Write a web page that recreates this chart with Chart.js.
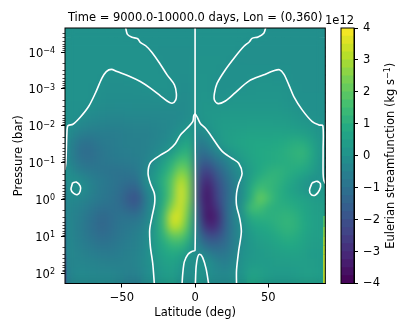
<!DOCTYPE html>
<html>
<head>
<meta charset="utf-8">
<style>
html, body { margin: 0; padding: 0; background: #fff; }
canvas { position: absolute; top: 0; }
</style>
<script src="https://cdn.jsdelivr.net/npm/chart.js@4"></script>
</head>
<body>
<canvas id="mainChart" width="415" height="332" style="left:0;width:415px;height:332px"></canvas>
<canvas id="colorbar" width="85" height="332" style="left:330px;width:85px;height:332px"></canvas>
<script>
var titleText = "Time = 9000.0-10000.0 days, Lon = (0,360)";
var xLabel = "Latitude (deg)";
var yLabel = "Pressure (bar)";
var cbarLabel = "Eulerian streamfunction (kg s";
var cbarLabelExp = "−1";
var offsetText = "1e12";

var xTicks = [-50, 0, 50];
var yTicks = [-4, -3, -2, -1, 0, 1, 2];
var cbarTicks = [-4, -3, -2, -1, 0, 1, 2, 3, 4];

var latitudes = [-87, -81, -75, -69, -63, -57, -51, -45, -39, -33, -27, -21, -15, -9, -3, 3, 9, 15, 21, 27, 33, 39, 45, 51, 57, 63, 69, 75, 81, 87];
var logPressure = [-4.55, -4.25, -4, -3.75, -3.5, -3.25, -3, -2.75, -2.5, -2.25, -2, -1.75, -1.5, -1.25, -1, -0.75, -0.5, -0.25, 0, 0.25, 0.5, 0.75, 1, 1.25, 1.5, 1.75, 2, 2.25];

// streamfunction in units of 1e12 kg/s, one row per pressure level
var streamfunction = [
	[.03, .03, .03, .03, .03, .03, .03, 0, -.03, -.03, -.03, -.03, -.03, -.03, -.03, .03, .03, .03, .03, .03, .03, .03, 0, -.06, -.06, -.06, -.06, -.06, -.06, -.06],
	[.03, .03, .03, .03, .03, .03, .03, .03, .01, -.03, -.03, -.03, -.03, -.03, -.03, .03, .03, .03, .03, .03, .03, -.02, -.06, -.06, -.06, -.06, -.06, -.06, -.06, -.06],
	[.03, .03, .03, .03, .03, .03, .03, .03, .03, .02, -.03, -.05, -.05, -.05, -.05, .05, .05, .05, .05, .03, -.03, -.06, -.06, -.06, -.06, -.06, -.06, -.06, -.06, -.06],
	[.03, .03, .03, .03, .03, .03, .03, .03, .03, .03, .02, -.05, -.07, -.07, -.07, .07, .07, .07, .05, -.03, -.06, -.06, -.06, -.06, -.06, -.06, -.06, -.06, -.06, -.06],
	[.03, .03, .03, .03, .03, .02, .02, .03, .03, .03, .03, .01, -.08, -.08, -.08, .08, .08, .08, -.02, -.04, -.04, -.04, -.04, -.04, -.02, -.04, -.06, -.06, -.06, -.06],
	[.03, .03, .03, .02, 0, -.05, -.06, -.04, .02, .03, .03, .03, 0, -.1, -.1, .1, .1, 0, -.04, -.04, -.04, 0, .06, .06, .05, 0, -.06, -.06, -.06, -.06],
	[.03, .03, .03, 0, -.08, -.1, -.1, -.1, -.08, -.03, .02, .02, .01, -.12, -.12, .12, .12, -.01, -.02, -.02, .03, .08, .1, .1, .1, .08, 0, -.06, -.06, -.06],
	[.02, .02, .02, 0, -.1, -.12, -.13, -.13, -.13, -.13, -.1, -.05, 0, -.15, -.15, .15, .15, 0, .05, .13, .13, .13, .13, .13, .13, .1, 0, -.04, -.04, -.04],
	[.01, .01, 0, -.08, -.15, -.18, -.2, -.2, -.18, -.18, -.18, -.18, -.18, -.18, -.15, .15, .18, .18, .18, .2, .2, .2, .2, .2, .2, .15, .08, -.01, -.04, -.04],
	[.01, 0, -.12, -.22, -.3, -.33, -.33, -.3, -.28, -.28, -.28, -.25, -.25, -.22, -.15, .15, .22, .25, .28, .3, .3, .33, .33, .33, .33, .28, .2, .08, 0, -.02],
	[0, -.2, -.33, -.42, -.45, -.48, -.48, -.45, -.42, -.42, -.38, -.33, -.25, -.15, .1, -.1, .15, .3, .38, .42, .42, .45, .45, .45, .42, .4, .32, .25, .15, .04],
	[-.1, -.45, -.65, -.7, -.65, -.65, -.6, -.55, -.5, -.5, -.45, -.35, -.2, .1, .45, -.45, -.1, .22, .42, .5, .55, .58, .6, .6, .62, .6, .6, .5, .3, .08],
	[-.15, -.75, -1.05, -.95, -.75, -.7, -.6, -.55, -.55, -.5, -.4, -.25, -.05, .5, .8, -.8, -.5, .05, .4, .55, .65, .72, .75, .75, .8, .88, 1, .95, .55, .12],
	[-.2, -.8, -1.2, -1.1, -.85, -.75, -.65, -.6, -.55, -.5, -.3, -.05, .35, 1, 1.15, -1.15, -1, -.45, -.05, .3, .5, .7, .8, .85, .9, 1, 1.15, 1.25, .7, .1],
	[-.15, -.7, -1, -1, -.85, -.8, -.75, -.7, -.65, -.45, -.1, .45, 1, 1.75, 1.5, -1.5, -1.7, -1.1, -.6, -.1, .3, .6, .8, .85, .9, .95, 1.05, 1.05, .6, .08],
	[-.03, -.45, -.7, -.8, -.9, -.95, -.95, -.9, -.8, -.3, .15, .7, 1.45, 2.5, 1.9, -1.9, -2.5, -1.7, -1, -.4, 0, .45, .8, 1.05, 1.15, 1, .9, .75, .4, .03],
	[-.1, -.05, -.3, -.6, -.75, -.85, -1, -1.1, -1.05, -.15, .3, 1, 1.9, 3.2, 2.2, -2.2, -3.1, -2.1, -1.3, -.6, -.05, .6, 1.1, 1.3, 1.15, .9, .6, .3, .05, .1],
	[-.2, .05, -.2, -.55, -.8, -.9, -1.1, -1.4, -1.55, -.4, .05, .9, 2, 3.6, 2.3, -2.3, -3.5, -2.4, -1.5, -.7, -.1, .9, 1.6, 1.3, 1.05, .75, .45, .2, -.05, .2],
	[-.3, -.3, -.45, -.65, -.8, -.95, -1.15, -1.7, -2.05, -.75, 0, .85, 2.1, 3.6, 2.3, -2.3, -3.6, -2.5, -1.5, -.7, -.05, .95, 2.2, 1.6, 1, .85, .7, .55, .4, .3],
	[-.35, -.45, -.6, -.85, -1.05, -1.05, -1.1, -1.4, -1.6, -.65, .05, 1, 2.7, 3.5, 2, -2, -3.5, -2.9, -1.5, -.55, .1, 1.6, 1.55, 1.05, 1, 1, .9, .7, .5, .4],
	[-.35, -.5, -.75, -1.05, -1.3, -1.15, -.95, -.95, -1, -.55, .1, 1.3, 3.6, 3.4, 1.7, -1.7, -3.6, -3.3, -1.6, -.5, .1, .95, 1.05, 1.05, 1.1, 1.2, 1.1, .75, .55, .45],
	[-.3, -.5, -.8, -1.1, -1.35, -1.15, -.9, -.8, -.7, -.4, .25, 1.3, 3.3, 3, 1.4, -1.4, -3.1, -3, -1.6, -.6, -.05, .55, .75, .85, 1.05, 1.2, 1.15, .8, .55, .45],
	[-.3, -.5, -.75, -1, -1.2, -1.05, -.85, -.7, -.55, -.3, .3, 1.1, 2.1, 2.1, 1.1, -1, -2.1, -2.2, -1.45, -.6, -.1, .35, .55, .65, .85, 1.05, .95, .7, .5, .45],
	[-.3, -.45, -.65, -.8, -.95, -.9, -.75, -.6, -.5, -.25, .3, .85, 1.3, 1.3, .6, -.6, -1.3, -1.45, -1.2, -.6, -.05, .25, .4, .5, .65, .8, .8, .6, .4, .4],
	[-.35, -.4, -.5, -.6, -.7, -.75, -.65, -.55, -.45, -.2, .25, .65, .85, .7, .15, -.1, -.5, -.85, -.85, -.5, .05, .2, .3, .4, .5, .55, .6, .5, .35, .35],
	[-.5, -.35, -.4, -.45, -.5, -.55, -.55, -.5, -.4, -.15, .1, .5, .6, .3, -.15, .1, .05, -.4, -.6, -.35, .1, .3, .35, .35, .4, .4, .45, .45, .4, .35],
	[-.6, -.3, -.3, -.35, -.4, -.4, -.45, -.55, -.5, -.2, .05, .35, .45, .1, -.2, .15, -.1, -.25, -.35, -.15, .1, .55, .5, .35, .3, .3, .35, .45, .45, .35],
	[-.7, -.25, -.25, -.3, -.25, -.3, -.45, -.6, -.65, -.2, .05, .3, .4, .05, -.2, .2, -.1, -.2, -.25, -.1, .1, .7, .5, .3, .25, .25, .3, .4, .4, .35]
];

// thin columns right at the plot edges
var rightEdgeLat = 88.2;
var rightEdgeLog = [0.45, 0.75, 1, 1.25, 1.5, 2, 2.3];
var rightEdgeVal = [1, 1.9, 2.6, 3, 3.2, 3.3, 3.3];
var leftEdgeLat = -88.4;
var leftEdgeLog = [-0.5, 0.5, 1.5, 1.9, 2.3];
var leftEdgeVal = [-0.4, -0.6, -0.9, -1.4, -1.7];

// zero contour, [lat, log10 p]
var contourUpperLeft = [[-47.4, -4.66], [-46.2, -4.48], [-43.1, -4.4], [-39.2, -4.36], [-37.4, -4.26], [-33.7, -4.17], [-29.4, -3.99], [-24.1, -3.69], [-19.1, -3.38], [-14.1, -3.11], [-12.8, -2.88], [-13.2, -2.7], [-15.7, -2.61], [-19.1, -2.67], [-23.7, -2.81], [-30.5, -3.02], [-37.4, -3.2], [-45.3, -3.35], [-53.3, -3.47], [-57.2, -3.53], [-60.6, -3.47], [-63.6, -3.29], [-68.1, -2.88], [-72.7, -2.52], [-78.4, -2.23], [-83.4, -2.04], [-86.8, -2], [-87.5, -1.79], [-88.2, -0.98], [-88.9, -0.8]];
var contourUpperRight = [[48.2, -4.66], [46.9, -4.51], [43, -4.41], [38.9, -4.37], [37.1, -4.28], [33.2, -4.15], [27.5, -3.88], [20.7, -3.52], [15, -3.15], [13.2, -2.88], [13.2, -2.7], [15.7, -2.6], [20.7, -2.67], [27.5, -2.9], [36.7, -3.21], [46.9, -3.38], [53.7, -3.49], [57.6, -3.52], [60.6, -3.4], [64, -3.11], [67.4, -2.79], [73.1, -2.43], [80, -2.11], [84.5, -2.02], [87.2, -2], [87.4, -1.34], [87.4, -0.7], [87.9, -0.52], [89, -0.43]];
var contourCentreLine = [[0, -4.66], [0, -2.4], [0, 1.38], [-2, 1.41], [-4.8, 1.49], [-7.3, 1.69], [-8.4, 2.01], [-8.9, 2.3]];
var contourArchLeft = [[0, -2.33], [-0.9, -2.27], [-1.6, -2.11], [-5.5, -1.93], [-10, -1.75], [-13.4, -1.52], [-18, -1.34], [-23.7, -1.2], [-30.5, -0.995], [-32.1, -0.71], [-30.5, -0.43], [-27.8, -0.16], [-27.6, 0.11], [-29.4, 0.47], [-31, 0.83], [-30.5, 1.29], [-28.9, 1.74], [-27.8, 2.3]];
var contourArchRight = [[0, -2.33], [1.4, -2.24], [3.6, -2.06], [7.1, -1.93], [10.5, -1.75], [18.4, -1.31], [25.3, -1.11], [29.8, -0.98], [32.1, -0.7], [29.8, -0.43], [28.3, -0.16], [28.3, 0.16], [30.5, 0.52], [31.6, 0.88], [29.8, 1.38], [28.3, 1.92], [28.3, 2.3]];
var contourBottomArch = [[0.2, 2.3], [0.7, 1.83], [1.8, 1.56], [3.2, 1.49], [5.2, 1.58], [7.5, 1.88], [9.3, 2.3]];
var contourOvalLeft = [[-83.6, -0.45], [-81.1, -0.47], [-78.4, -0.36], [-78.4, -0.23], [-80.2, -0.13], [-82.9, -0.16], [-84.7, -0.27], [-83.6, -0.45]];
var contourOvalRight = [[79.9, -0.45], [83.3, -0.49], [85.6, -0.42], [84.9, -0.25], [82.2, -0.12], [79.5, -0.12], [78.1, -0.25], [79.9, -0.45]];

var viridis = ["#440154", "#482475", "#414487", "#355f8d", "#2a788e", "#21918c", "#22a884", "#44bf70", "#7ad151", "#bddf26", "#fde725"];
// viridis stops above sit at 0, 0.1, ... 1 of the colour range
var cbarLevels = [];
for (var l = -4; l < 4; l += 0.25) {
	cbarLevels.push(l);
}

var hexToRgb = function (hex) {
	return [parseInt(hex.substr(1, 2), 16), parseInt(hex.substr(3, 2), 16), parseInt(hex.substr(5, 2), 16)];
};

var colorFor = function (value) {
	var t = Math.min(1, Math.max(0, (value + 4) / 8)) * (viridis.length - 1);
	var i = Math.min(viridis.length - 2, Math.floor(t));
	var a = hexToRgb(viridis[i]), b = hexToRgb(viridis[i + 1]);
	var f = t - i;
	return "rgb(" + Math.round(a[0] + (b[0] - a[0]) * f) + "," + Math.round(a[1] + (b[1] - a[1]) * f) + "," + Math.round(a[2] + (b[2] - a[2]) * f) + ")";
};

var toPoints = function (list) {
	return list.map(function (p) {
		return { x: p[0], y: Math.pow(10, p[1]) };
	});
};

var fontFamily = "'DejaVu Sans'";
Chart.defaults.font.family = fontFamily;
Chart.defaults.font.size = 11.5;
Chart.defaults.color = "#000";

var cells = [], cellColors = [];
logPressure.forEach(function (lp, r) {
	latitudes.forEach(function (lat, c) {
		cells.push({ x: lat, y: Math.pow(10, lp) });
		cellColors.push(colorFor(streamfunction[r][c]));
	});
});

var contourSet = function (list) {
	return {
		data: toPoints(list),
		showLine: true,
		borderColor: "#fff",
		borderWidth: 1.6,
		pointRadius: 0,
		tension: 0.3,
		order: 1
	};
};

var edgeSet = function (lat, logs, vals) {
	return {
		data: logs.map(function (lp) { return { x: lat, y: Math.pow(10, lp) }; }),
		showLine: true,
		borderWidth: 2.2,
		pointRadius: 0,
		borderColor: colorFor(vals[0]),
		segment: {
			borderColor: function (ctx) { return colorFor(vals[ctx.p1DataIndex]); }
		},
		order: 2
	};
};

// soften the cell blocks, the reference is a smooth contour fill
var blurCells = {
	id: "blurCells",
	afterDatasetDraw: function (chart, args) {
		if (args.index !== 0) return;
		var a = chart.chartArea, w = Math.round(a.right - a.left), h = Math.round(a.bottom - a.top);
		var off = document.createElement("canvas");
		off.width = w;
		off.height = h;
		var octx = off.getContext("2d");
		octx.filter = "blur(4px)";
		octx.drawImage(chart.canvas, a.left, a.top, w, h, 0, 0, w, h);
		chart.ctx.save();
		chart.ctx.drawImage(off, a.left, a.top);
		chart.ctx.restore();
	}
};

var minorLog = [];
for (var d = -5; d < 3; d++) {
	for (var m = 2; m < 10; m++) {
		minorLog.push(m * Math.pow(10, d));
	}
}

var frameAndText = {
	id: "frameAndText",
	afterDraw: function (chart) {
		var ctx = chart.ctx, a = chart.chartArea, ys = chart.scales.y;
		ctx.save();
		ctx.strokeStyle = "#000";
		ctx.lineWidth = 1;
		ctx.strokeRect(a.left, a.top, a.right - a.left, a.bottom - a.top);
		ctx.lineWidth = 0.7;
		minorLog.forEach(function (v) {
			if (v < ys.min || v > ys.max) return;
			var py = Math.round(ys.getPixelForValue(v)) + 0.5;
			ctx.beginPath();
			ctx.moveTo(a.left - 2.5, py);
			ctx.lineTo(a.left, py);
			ctx.stroke();
		});
		ctx.fillStyle = "#000";
		ctx.font = "11.5px " + fontFamily;
		ctx.textBaseline = "alphabetic";
		ctx.textAlign = "center";
		ctx.fillText(titleText, (a.left + a.right) / 2, 21);
		ctx.fillText(offsetText, 339.5, 24);
		ctx.fillText(xLabel, (a.left + a.right) / 2, 315.5);

		// decade labels, mathtext style
		yTicks.forEach(function (e) {
			var py = ys.getPixelForValue(Math.pow(10, e));
			var exp = String(e).replace("-", "−");
			ctx.textAlign = "right";
			ctx.font = "8px " + fontFamily;
			ctx.fillText(exp, 55, py + 0.8);
			var expWidth = ctx.measureText(exp).width;
			ctx.font = "11.5px " + fontFamily;
			ctx.fillText("10", 55 - expWidth, py + 4.6);
		});

		ctx.textAlign = "center";
		ctx.translate(22, (a.top + a.bottom) / 2);
		ctx.rotate(-Math.PI / 2);
		ctx.fillText(yLabel, 0, 0);
		ctx.restore();
	}
};

var datasets = [{
	data: cells,
	pointStyle: "rect",
	pointRadius: 7.9,
	pointBackgroundColor: cellColors,
	pointBorderWidth: 0,
	order: 3
}, edgeSet(rightEdgeLat, rightEdgeLog, rightEdgeVal), edgeSet(leftEdgeLat, leftEdgeLog, leftEdgeVal)];
[contourUpperLeft, contourUpperRight, contourCentreLine, contourArchLeft, contourArchRight, contourBottomArch, contourOvalLeft, contourOvalRight].forEach(function (c) {
	datasets.push(contourSet(c));
});

new Chart(document.getElementById("mainChart"), {
	type: "scatter",
	data: { datasets: datasets },
	plugins: [blurCells, frameAndText],
	options: {
		responsive: false,
		animation: false,
		layout: { padding: { top: 28, right: 89.7, left: 0, bottom: 0 } },
		plugins: { legend: { display: false }, tooltip: { enabled: false } },
		scales: {
			x: {
				type: "linear",
				min: -88.8,
				max: 88.9,
				afterBuildTicks: function (scale) {
					scale.ticks = xTicks.map(function (v) { return { value: v }; });
				},
				afterFit: function (scale) { scale.height = 48.5; },
				ticks: {
					padding: 3.5,
					maxRotation: 0,
					callback: function (v) { return String(v).replace("-", "−"); }
				},
				grid: { drawOnChartArea: false, tickLength: 4, tickColor: "#000", tickWidth: 1 },
				border: { color: "#000", width: 1 }
			},
			y: {
				type: "logarithmic",
				reverse: true,
				min: Math.pow(10, -4.652),
				max: Math.pow(10, 2.283),
				afterBuildTicks: function (scale) {
					scale.ticks = yTicks.map(function (e) { return { value: Math.pow(10, e), major: true }; });
				},
				afterFit: function (scale) { scale.width = 65; },
				ticks: {
					autoSkip: false,
					maxRotation: 0,
					callback: function () { return ""; }
				},
				grid: { drawOnChartArea: false, tickLength: 4, tickColor: "#000", tickWidth: 1 },
				border: { color: "#000", width: 1 }
			}
		}
	}
});

// colorbar
var cbarTitle = {
	id: "cbarTitle",
	afterDraw: function (chart) {
		var ctx = chart.ctx, a = chart.chartArea;
		ctx.save();
		ctx.strokeStyle = "#000";
		ctx.lineWidth = 1;
		ctx.strokeRect(a.left, a.top, a.right - a.left, a.bottom - a.top);
		ctx.fillStyle = "#000";
		ctx.textAlign = "left";
		ctx.textBaseline = "alphabetic";
		ctx.translate(64.3, (a.top + a.bottom) / 2);
		ctx.rotate(-Math.PI / 2);
		ctx.font = "11.5px " + fontFamily;
		var w1 = ctx.measureText(cbarLabel).width, w3 = ctx.measureText(")").width;
		ctx.font = "8px " + fontFamily;
		var w2 = ctx.measureText(cbarLabelExp).width;
		var start = -(w1 + w2 + w3) / 2;
		ctx.fillText(cbarLabelExp, start + w1, -4.2);
		ctx.font = "11.5px " + fontFamily;
		ctx.fillText(cbarLabel, start, 0);
		ctx.fillText(")", start + w1 + w2, 0);
		ctx.restore();
	}
};

new Chart(document.getElementById("colorbar"), {
	type: "bar",
	data: {
		labels: [""],
		datasets: cbarLevels.map(function (lo) {
			return {
				data: [[Math.max(-4, lo - 0.05), lo + 0.25]],
				backgroundColor: colorFor(lo + 0.125),
				borderWidth: 0,
				grouped: false,
				barPercentage: 1,
				categoryPercentage: 1
			};
		})
	},
	plugins: [cbarTitle],
	options: {
		responsive: false,
		animation: false,
		layout: { padding: { top: 28, left: 11, right: 0, bottom: 48.5 } },
		plugins: { legend: { display: false }, tooltip: { enabled: false } },
		scales: {
			x: { display: false },
			y: {
				position: "right",
				min: -4,
				max: 4,
				afterBuildTicks: function (scale) {
					scale.ticks = cbarTicks.map(function (v) { return { value: v }; });
				},
				afterFit: function (scale) { scale.width = 61; },
				ticks: {
					padding: 5,
					callback: function (v) { return String(v).replace("-", "−"); }
				},
				grid: { drawOnChartArea: false, tickLength: 4, tickColor: "#000", tickWidth: 1 },
				border: { color: "#000", width: 1 }
			}
		}
	}
});
</script>
</body>
</html>
